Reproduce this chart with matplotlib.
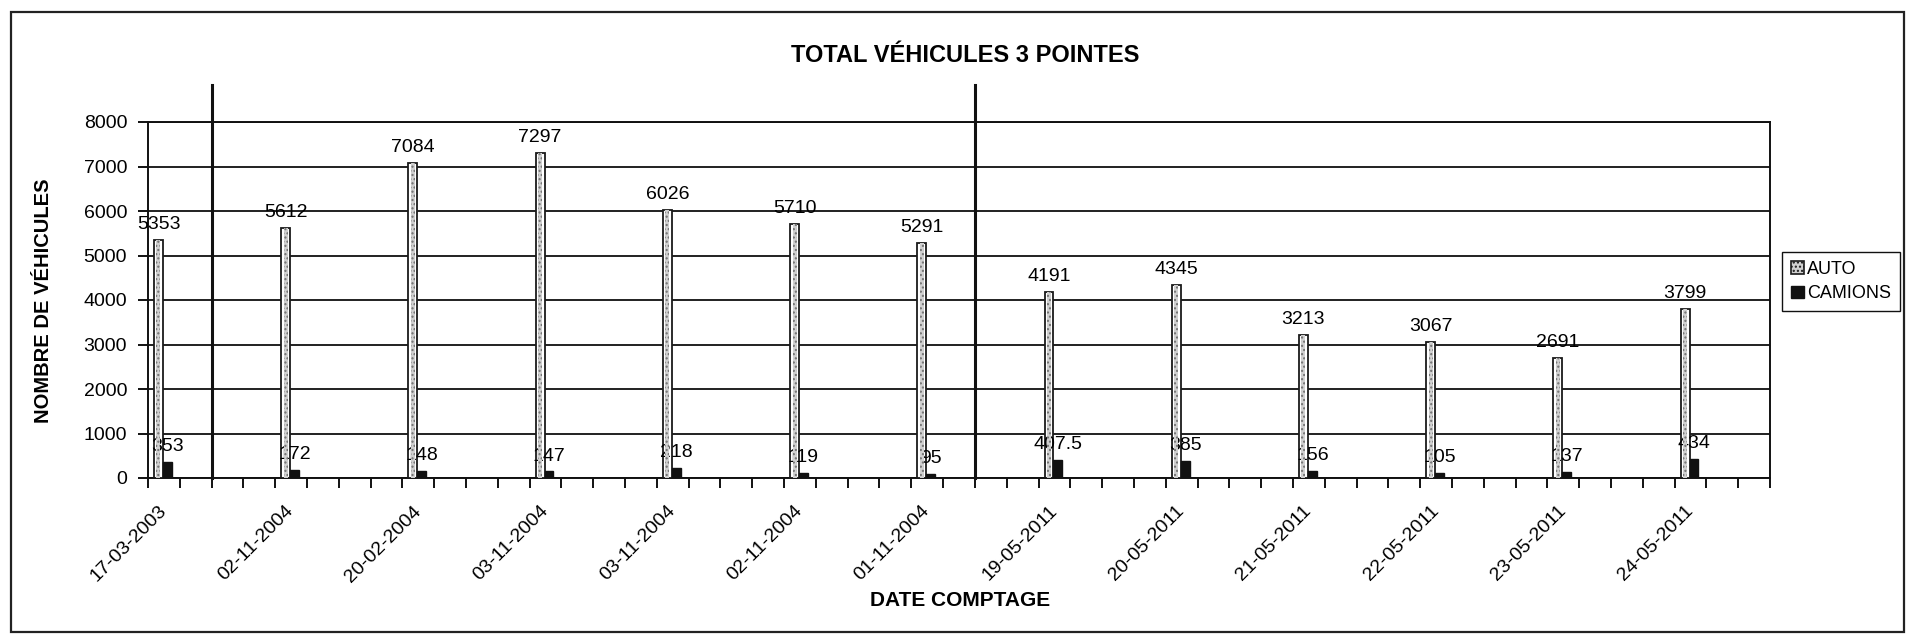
import matplotlib.pyplot as plt
from matplotlib.patches import Rectangle
import matplotlib.transforms as mtransforms

plt.rcParams['font.family'] = ['Liberation Sans', 'DejaVu Sans']

# ── Data ──────────────────────────────────────────────────────────────────────
dates = ["17-03-2003", "02-11-2004", "20-02-2004", "03-11-2004", "03-11-2004",
         "02-11-2004", "01-11-2004", "19-05-2011", "20-05-2011", "21-05-2011",
         "22-05-2011", "23-05-2011", "24-05-2011"]
auto = [5353, 5612, 7084, 7297, 6026, 5710, 5291, 4191, 4345, 3213, 3067, 2691, 3799]
camions = [353, 172, 148, 147, 218, 119, 95, 407.5, 385, 156, 105, 137, 434]
auto_labels = ["5353", "5612", "7084", "7297", "6026", "5710", "5291", "4191",
               "4345", "3213", "3067", "2691", "3799"]
camions_labels = ["353", "172", "148", "147", "218", "119", "95", "407.5",
                  "385", "156", "105", "137", "434"]
# ─────────────────────────────────────────────────────────────────────────────

SLOTS = 4        # each date occupies 4 category slots on the axis (3 empty)
N_SLOTS = 51
BAR_W = 0.28
FS = 14

fig = plt.figure(figsize=(19.08, 6.37), dpi=100)
ax = fig.add_axes([148 / 1908, 1 - 478 / 637, (1770 - 148) / 1908, (478 - 122) / 637])

# outer chart border
fig.patches.append(Rectangle((11 / 1908, 5 / 637), 1893 / 1908, 620 / 637,
                             transform=fig.transFigure, fill=False,
                             edgecolor='#222222', lw=1.6))

x = [i * SLOTS for i in range(len(dates))]
x_auto = [v + 0.33 for v in x]
x_cam = [v + 0.61 for v in x]

ax.set_axisbelow(True)
ax.grid(axis='y', color='#202020', lw=1.4)

# AUTO bars: white outline with dotted grey core
ax.bar(x_auto, auto, width=BAR_W, color='white', edgecolor='#1a1a1a', lw=1.3, zorder=3)
ax.bar(x_auto, auto, width=BAR_W * 0.45, color='#d0d0d0', edgecolor='#707070',
       hatch='....', lw=0, zorder=4)
ax.bar(x_cam, camions, width=BAR_W, color='#111111', edgecolor='#111111', lw=1, zorder=3)

for xa, v, t in zip(x_auto, auto, auto_labels):
    ax.annotate(t, (xa, v), xytext=(0, 5), textcoords='offset points',
                ha='center', va='bottom', fontsize=FS)
for xc, v, t in zip(x_cam, camions, camions_labels):
    ax.annotate(t, (xc, v), xytext=(0, 5), textcoords='offset points',
                ha='center', va='bottom', fontsize=FS)

# period separators (2003 | 2004 | 2011)
trans = mtransforms.blended_transform_factory(ax.transData, ax.transAxes)
for sep in [2, 26]:
    ax.plot([sep, sep], [0, 1.105], transform=trans, color='#111111', lw=2.2,
            clip_on=False, zorder=5)

ax.set_xlim(0, N_SLOTS)
ax.set_ylim(0, 8000)
ax.set_yticks(range(0, 8001, 1000))
ax.set_xticks([v + 0.5 for v in x])
ax.set_xticklabels(dates, rotation=45, ha='right', va='center', rotation_mode='anchor')
ax.set_xticks(range(0, N_SLOTS + 1), minor=True)
ax.tick_params(axis='x', which='major', length=0, pad=22, labelsize=FS)
ax.tick_params(axis='x', which='minor', length=7, width=1.4, color='#111111')
ax.tick_params(axis='y', length=7, width=1.4, pad=8, labelsize=FS, color='#111111')
for s in ax.spines.values():
    s.set_color('#111111')
    s.set_linewidth(1.4)

fig.text(965 / 1908, 1 - 55 / 637, "TOTAL VÉHICULES 3 POINTES", ha='center',
         va='center', fontsize=17, fontweight='bold')
fig.text(960 / 1908, 1 - 600 / 637, "DATE COMPTAGE", ha='center', va='center',
         fontsize=15, fontweight='bold')
fig.text(44 / 1908, 1 - 301 / 637, "NOMBRE DE VÉHICULES", ha='center', va='center',
         rotation=90, fontsize=14.5, fontweight='bold')

auto_handle = Rectangle((0, 0), 1, 1, facecolor='#d0d0d0', edgecolor='#1a1a1a',
                        hatch='....', lw=1.2)
cam_handle = Rectangle((0, 0), 1, 1, facecolor='#111111', edgecolor='#111111')
fig.legend([auto_handle, cam_handle], ["AUTO", "CAMIONS"], loc='upper left',
           bbox_to_anchor=(1782 / 1908, 1 - 252 / 637), fontsize=13,
           fancybox=False, edgecolor='#111111', framealpha=1,
           handlelength=0.7, handleheight=0.7, handletextpad=0.2,
           borderpad=0.5, labelspacing=0.4, borderaxespad=0)

fig.savefig("out.png", dpi=100, facecolor='white')
